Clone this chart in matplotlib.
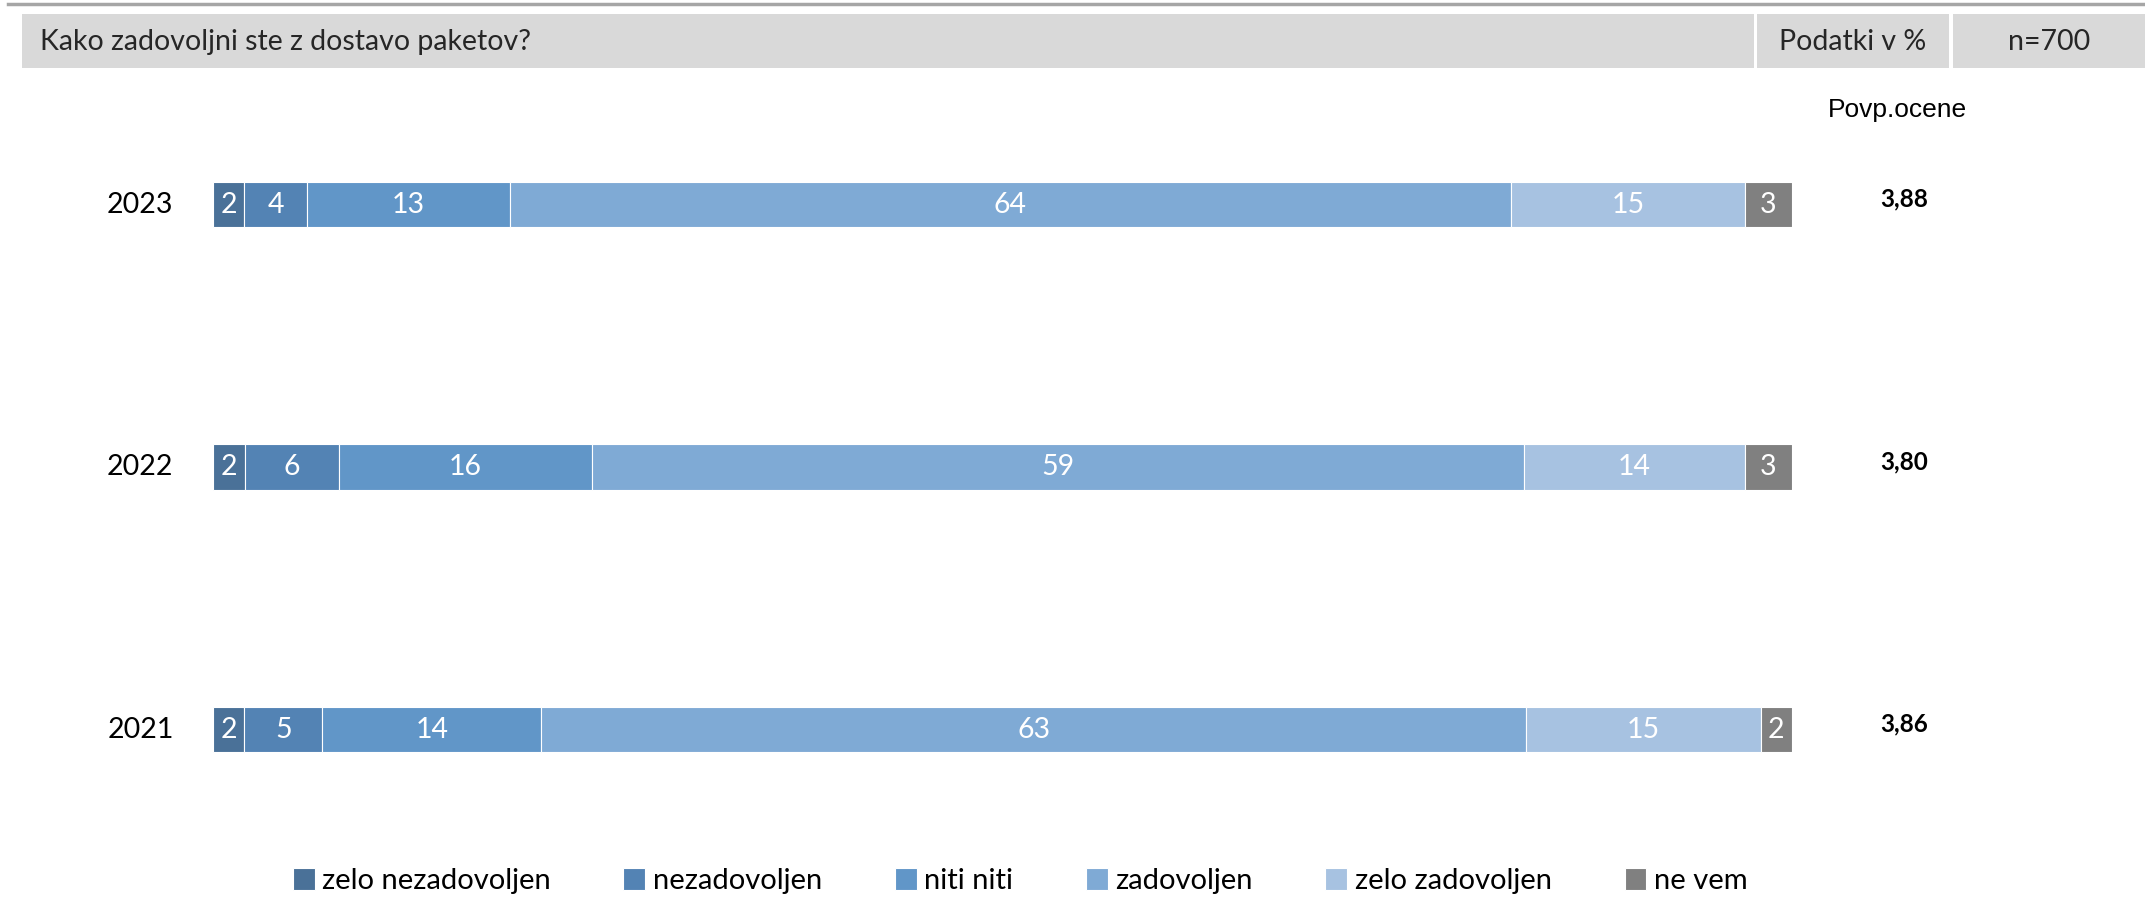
import matplotlib.pyplot as plt
from matplotlib.patches import Rectangle
import numpy as np

plt.rcParams['font.family'] = ['Lato', 'DejaVu Sans']

years = ['2021', '2022', '2023']
categories = ['zelo nezadovoljen', 'nezadovoljen', 'niti niti', 'zadovoljen',
              'zelo zadovoljen', 'ne vem']
values = {
    '2021': [2, 5, 14, 63, 15, 2],
    '2022': [2, 6, 16, 59, 14, 3],
    '2023': [2, 4, 13, 64, 15, 3],
}
averages = ['3,86', '3,80', '3,88']
colors = ['#4a7198', '#5383b4', '#6196c8', '#7faad5', '#a7c2e1', '#808080']

question = 'Kako zadovoljni ste z dostavo paketov?'
unit_label = 'Podatki v %'
sample_label = 'n=700'

W, H = 2145, 897
fig = plt.figure(figsize=(W / 100, H / 100), dpi=100)

def fx(px):
    return px / W

def fy(py):
    return 1 - py / H

# header strip
fig.add_artist(plt.Line2D([fx(8), 1], [fy(4), fy(4)], color='#a6a6a6', lw=2.5))
for x0, x1 in [(22, 1754), (1757, 1949), (1953, 2145)]:
    fig.add_artist(Rectangle((fx(x0), fy(68)), fx(x1 - x0), 54 / H,
                             facecolor='#d9d9d9', edgecolor='none'))
fig.text(fx(40), fy(42), question, fontsize=20.5, va='center', color='#262626')
fig.text(fx(1853), fy(42), unit_label, fontsize=20.5, va='center', ha='center', color='#262626')
fig.text(fx(2049), fy(42), sample_label, fontsize=20.5, va='center', ha='center', color='#262626')

# bars
top, bottom = 100, 830
ax = fig.add_axes([fx(213), fy(bottom), fx(1792 - 213), (bottom - top) / H])
ypos = np.arange(len(years))
bar_h = 45 / 262.5
handles = []
for i, y in enumerate(years):
    vals = np.array(values[y], dtype=float)
    shares = vals / vals.sum() * 100
    left = 0
    for j, (v, s) in enumerate(zip(vals, shares)):
        b = ax.barh(ypos[i], s, left=left, height=bar_h, color=colors[j],
                    edgecolor='white', linewidth=0.8)
        if i == 0:
            handles.append(b)
        ax.text(left + s / 2, ypos[i], f'{int(v)}', ha='center', va='center',
                color='white', fontsize=20.5)
        left += s
    ax.text(-2.5, ypos[i], y, ha='right', va='center', fontsize=20.5, color='black')
    ax.text(107.1, ypos[i] + 0.02, averages[i], ha='center', va='center',
            fontsize=17.5, fontweight='bold', color='black')

ax.text(106.7, ypos[-1] + (204.5 - 110) / 262.5, 'Povp.ocene', ha='center',
        va='center', fontsize=19, family='Liberation Sans', color='black')

ax.set_xlim(0, 100)
ax.set_ylim(-(bottom - 729.5) / 262.5, 2 + (204.5 - top) / 262.5)
ax.axis('off')

fig.legend([h[0] for h in handles], categories, loc='center', ncol=6,
           bbox_to_anchor=(fx(1020), fy(881)), frameon=False, fontsize=21,
           handlelength=0.75, handleheight=0.75, handletextpad=0.25,
           columnspacing=2.5)

fig.savefig('out.png', dpi=100)
